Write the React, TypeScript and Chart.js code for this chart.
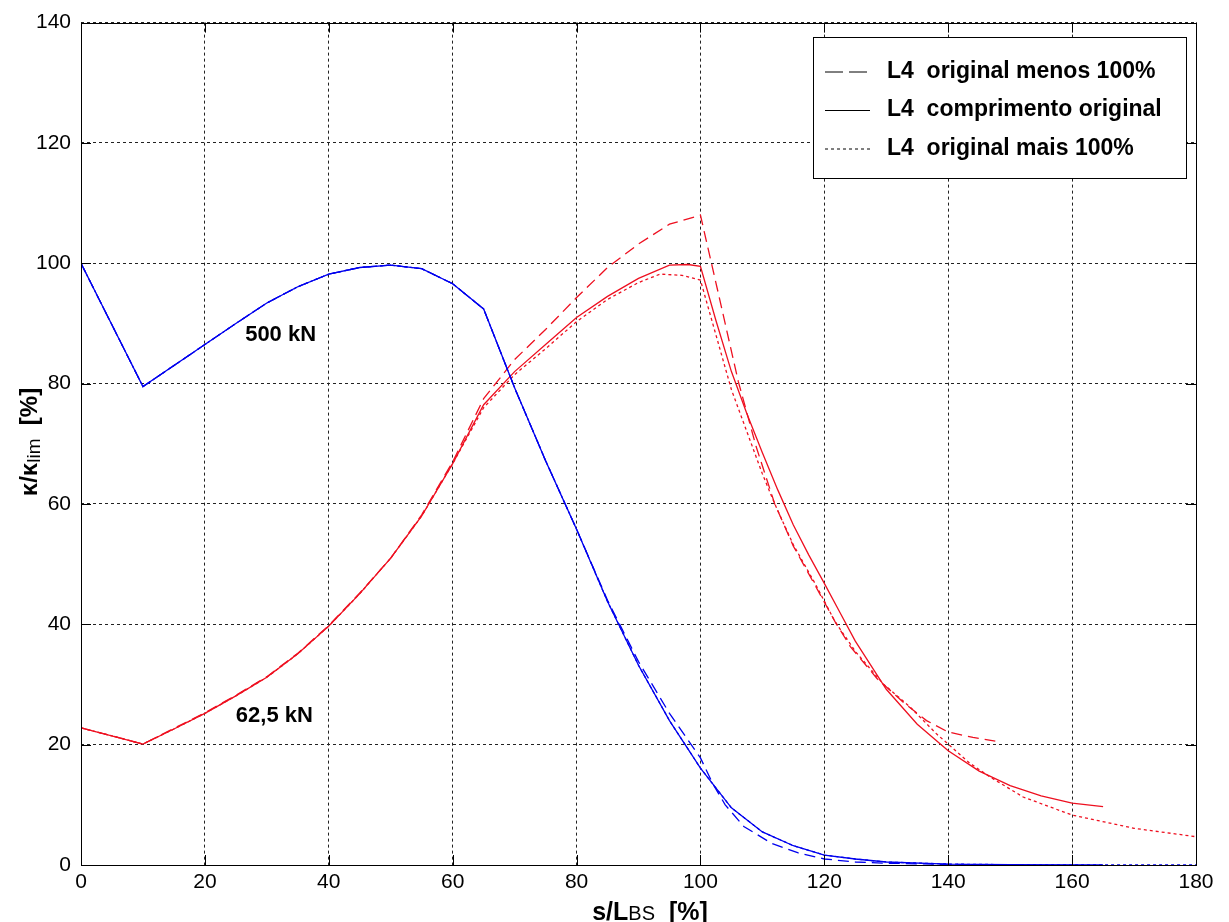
import React, { useEffect, useRef } from "react";
import { Chart, registerables } from "chart.js";

Chart.register(...registerables);

// ---------- data ----------
const xTickValues = [0, 20, 40, 60, 80, 100, 120, 140, 160, 180];
const yTickValues = [0, 20, 40, 60, 80, 100, 120, 140];

const legendLabels = ["L4  original menos 100%", "L4  comprimento original", "L4  original mais 100%"];
const annotationLabels = ["500 kN", "62,5 kN"];
const annotationX = [26.5, 25.0];
const annotationY = [88.1, 24.7];

// 500 kN (blue)
const blueSolidX = [0, 10, 20, 25, 30, 35, 40, 45, 50, 55, 60, 65, 70, 75, 80, 85, 90, 95, 100, 105, 110, 115, 120, 125, 130, 140, 150, 165];
const blueSolidY = [100, 79.5, 86.5, 90, 93.4, 96.1, 98.2, 99.3, 99.7, 99.1, 96.6, 92.4, 79.3, 67.2, 55.8, 43.8, 33.2, 24, 16.1, 9.5, 5.5, 3.2, 1.65, 1.0, 0.5, 0.15, 0.05, 0];
const blueDashX = [0, 10, 20, 25, 30, 35, 40, 45, 50, 55, 60, 65, 70, 75, 80, 85, 90, 95, 100, 102, 104, 107, 111.5, 115.8, 120, 125, 130, 140, 148];
const blueDashY = [100, 79.5, 86.5, 90, 93.4, 96.1, 98.2, 99.3, 99.7, 99.1, 96.6, 92.4, 79.3, 67.2, 55.8, 44.0, 33.8, 25.2, 17.8, 13.5, 10.0, 6.4, 3.6, 2.0, 1.0, 0.5, 0.3, 0.1, 0];
const blueDotX = [0, 10, 20, 25, 30, 35, 40, 45, 50, 55, 60, 65, 70, 75, 80, 85, 90, 95, 100, 105, 110, 115, 120, 125, 130, 140, 150, 165, 180];
const blueDotY = [100, 79.5, 86.5, 90, 93.4, 96.1, 98.2, 99.3, 99.7, 99.1, 96.6, 92.4, 79.3, 67.2, 55.8, 43.8, 33.2, 24, 16.1, 9.5, 5.5, 3.2, 1.65, 1.0, 0.5, 0.15, 0.05, 0, 0];

// 62,5 kN (red)
const redSolidX = [0, 10, 15, 20, 25, 30, 35, 40, 45, 50, 55, 60, 65, 70, 75, 80, 85, 90, 95, 98, 100, 102.5, 105, 107.5, 110, 112.5, 115, 117.5, 120, 122.5, 125, 130, 135, 140, 145, 150, 155, 160, 165];
const redSolidY = [22.8, 20.1, 22.6, 25.2, 28.1, 31.2, 35.1, 39.7, 45.1, 51, 58, 66.7, 76.5, 82, 86.5, 91, 94.5, 97.5, 99.7, 99.8, 99.5, 90.5, 82, 75, 68.5, 62.3, 56.5, 51.5, 46.8, 42, 37.2, 29.2, 23.4, 19, 15.6, 13.2, 11.5, 10.3, 9.7];
const redDashX = [0, 10, 15, 20, 25, 30, 35, 40, 45, 50, 55, 60, 65, 70, 75, 80, 85, 90, 95, 100, 103, 106.1, 109, 112, 115, 118.5, 121.7, 124.2, 128.5, 132.8, 136.5, 140, 144, 147.6];
const redDashY = [22.8, 20.1, 22.7, 25.3, 28.2, 31.3, 35.2, 39.8, 45.2, 51, 58.2, 67, 77.5, 84, 89, 94.3, 99.3, 103.2, 106.5, 108, 94.5, 80.4, 69.5, 60, 53, 46.5, 40.5, 36.3, 31, 27, 24, 22.1, 21.2, 20.6];
const redDotX = [0, 10, 15, 20, 25, 30, 35, 40, 45, 50, 55, 60, 65, 70, 75, 80, 85, 90, 93.5, 97, 100, 105, 110, 112, 115, 118.5, 121.7, 125, 129.5, 133.8, 138.1, 143.5, 146.8, 152.1, 160, 170, 180];
const redDotY = [22.8, 20.1, 22.6, 25.2, 28.1, 31.2, 35.1, 39.7, 45.1, 51, 58, 66.7, 76, 81.5, 85.8, 90.3, 94, 96.8, 98.2, 98, 97.2, 79, 65, 60, 53.2, 46.8, 40.5, 35.5, 30.1, 26.3, 21.8, 16.9, 14.6, 11.3, 8.3, 6.1, 4.7];

const BLUE = "#0000ee";
const RED = "#ee1020";
const FONT = "'Liberation Sans', Arial, Helvetica, sans-serif";

function pts(xs: number[], ys: number[]) {
  return xs.map((x, i) => ({ x, y: ys[i] }));
}

export default function App() {
  const ref = useRef<HTMLCanvasElement>(null);

  useEffect(() => {
    const overlay = {
      id: "overlay",
      afterDraw(chart: any) {
        const ctx = chart.ctx as CanvasRenderingContext2D;
        const { left, right, top, bottom } = chart.chartArea;
        const xs = chart.scales.x;
        const ys = chart.scales.y;
        ctx.save();
        ctx.setLineDash([]);
        // border + inward ticks
        ctx.strokeStyle = "#000";
        ctx.lineWidth = 1;
        ctx.strokeRect(Math.round(left) + 0.5, Math.round(top) + 0.5, Math.round(right - left), Math.round(bottom - top));
        const tl = 10;
        ctx.beginPath();
        xTickValues.forEach((v) => {
          const px = Math.round(xs.getPixelForValue(v)) + 0.5;
          ctx.moveTo(px, bottom);
          ctx.lineTo(px, bottom - tl);
          ctx.moveTo(px, top);
          ctx.lineTo(px, top + tl);
        });
        yTickValues.forEach((v) => {
          const py = Math.round(ys.getPixelForValue(v)) + 0.5;
          ctx.moveTo(left, py);
          ctx.lineTo(left + tl, py);
          ctx.moveTo(right, py);
          ctx.lineTo(right - tl, py);
        });
        ctx.stroke();

        // annotations
        ctx.fillStyle = "#000";
        ctx.font = `bold 22px ${FONT}`;
        ctx.textAlign = "left";
        ctx.textBaseline = "middle";
        annotationLabels.forEach((t, i) => {
          ctx.fillText(t, xs.getPixelForValue(annotationX[i]), ys.getPixelForValue(annotationY[i]));
        });

        // legend
        const lx = 813, ly = 37, lw = 373, lh = 141;
        ctx.fillStyle = "#fff";
        ctx.fillRect(lx, ly, lw, lh);
        ctx.strokeStyle = "#000";
        ctx.strokeRect(lx + 0.5, ly + 0.5, lw, lh);
        const dashes = [[18, 6], [], [3, 3]];
        const rows = [71.5, 110, 148.5];
        legendLabels.forEach((t, i) => {
          ctx.setLineDash(dashes[i]);
          ctx.beginPath();
          ctx.moveTo(825, rows[i] + 0.5);
          ctx.lineTo(870, rows[i] + 0.5);
          ctx.stroke();
          ctx.setLineDash([]);
          ctx.fillStyle = "#000";
          ctx.font = `bold 23px ${FONT}`;
          ctx.textBaseline = "middle";
          ctx.fillText(t, 887, rows[i]);
        });

        // x axis title
        ctx.textBaseline = "alphabetic";
        const partsX: [string, string, number][] = [
          ["s/L", `bold 25px ${FONT}`, 0],
          ["BS", `20px ${FONT}`, 0],
          ["  [%]", `bold 25px ${FONT}`, 0],
        ];
        let wx = 0;
        partsX.forEach(([t, f]) => { ctx.font = f; wx += ctx.measureText(t).width; });
        let cx = 650 - wx / 2;
        partsX.forEach(([t, f, dy]) => {
          ctx.font = f;
          ctx.fillText(t, cx, 920 + dy);
          cx += ctx.measureText(t).width;
        });

        // y axis title (rotated)
        ctx.save();
        ctx.translate(37, 442);
        ctx.rotate(-Math.PI / 2);
        const partsY: [string, string, number][] = [
          ["κ/κ", `bold 24px ${FONT}`, 0],
          ["lim", `19px ${FONT}`, 3],
          ["  [%]", `bold 24px ${FONT}`, 0],
        ];
        let wy = 0;
        partsY.forEach(([t, f]) => { ctx.font = f; wy += ctx.measureText(t).width; });
        let cy = -wy / 2;
        partsY.forEach(([t, f, dy]) => {
          ctx.font = f;
          ctx.fillText(t, cy, dy);
          cy += ctx.measureText(t).width;
        });
        ctx.restore();
        ctx.restore();
      },
    };

    const mk = (label: string, xs: number[], ys: number[], color: string, dash: number[]) => ({
      label,
      data: pts(xs, ys),
      borderColor: color,
      borderWidth: 1.3,
      borderDash: dash,
      pointRadius: 0,
      fill: false,
      tension: 0,
    });

    const chart = new Chart(ref.current!, {
      type: "line",
      data: {
        datasets: [
          mk("blue dot", blueDotX, blueDotY, BLUE, [3, 3]),
          mk("blue dash", blueDashX, blueDashY, BLUE, [11, 6]),
          mk("blue solid", blueSolidX, blueSolidY, BLUE, []),
          mk("red dot", redDotX, redDotY, RED, [3, 3]),
          mk("red dash", redDashX, redDashY, RED, [11, 6]),
          mk("red solid", redSolidX, redSolidY, RED, []),
        ],
      },
      options: {
        animation: false,
        responsive: false,
        events: [],
        layout: { padding: { top: 21, right: 33, left: 0, bottom: 0 } },
        plugins: { legend: { display: false }, tooltip: { enabled: false } },
        scales: {
          x: {
            type: "linear",
            min: 0,
            max: 180,
            afterFit: (s: any) => { s.height = 57; },
            afterBuildTicks: (s: any) => { s.ticks = xTickValues.map((v) => ({ value: v })); },
            ticks: { color: "#000", font: { family: FONT, size: 21 }, padding: 5, maxRotation: 0, autoSkip: false },
            grid: { color: "#222", lineWidth: 1, drawTicks: false },
            border: { display: false, dash: [3, 3] },
          },
          y: {
            type: "linear",
            min: 0,
            max: 140,
            afterFit: (s: any) => { s.width = 81; },
            afterBuildTicks: (s: any) => { s.ticks = yTickValues.map((v) => ({ value: v })); },
            ticks: { color: "#000", font: { family: FONT, size: 21 }, padding: 10, autoSkip: false },
            grid: { color: "#222", lineWidth: 1, drawTicks: false },
            border: { display: false, dash: [3, 3] },
          },
        },
      },
      plugins: [overlay],
    } as any);
    return () => chart.destroy();
  }, []);

  return (
    <div style={{ position: "absolute", left: 0, top: 0, width: 1229, height: 922, background: "#fff" }}>
      <canvas ref={ref} width={1229} height={922} style={{ display: "block" }} />
    </div>
  );
}
